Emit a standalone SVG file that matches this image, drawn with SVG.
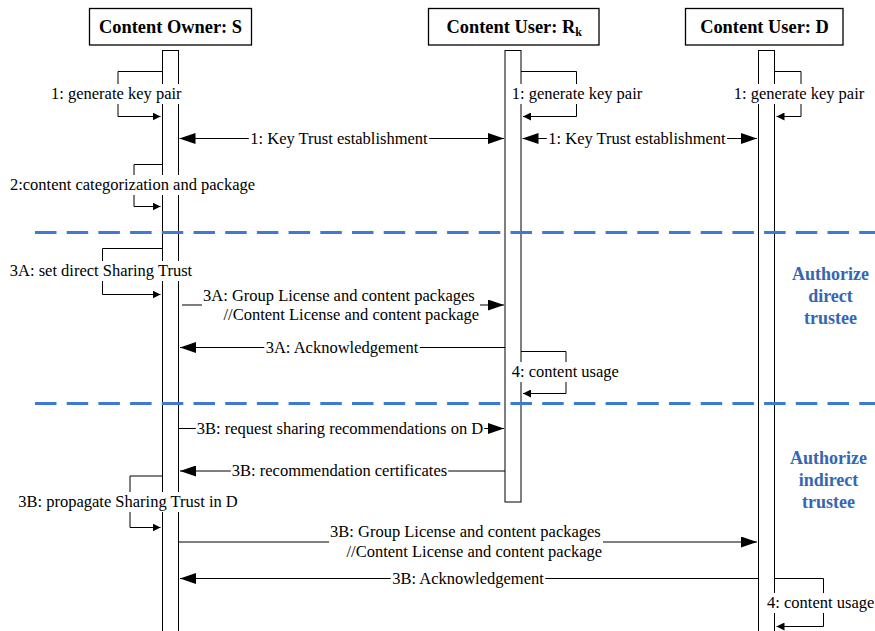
<svg xmlns="http://www.w3.org/2000/svg" width="875" height="631" viewBox="0 0 875 631">
<style>
.box{fill:#fff;stroke:#000;stroke-width:1.3}
.bar{fill:#fff;stroke:#000;stroke-width:1}
.msg{fill:none;stroke:#000;stroke-width:1.2}
.loop{fill:none;stroke:#000;stroke-width:1}
.t{font-family:"Liberation Serif","Times New Roman",serif;font-size:16.5px;fill:#000}
.c{text-anchor:middle}
.h{font-family:"Liberation Serif","Times New Roman",serif;font-size:18.4px;font-weight:bold;fill:#000}
.bg{fill:#fff}
.sep{fill:none;stroke:#3d7ad5;stroke-width:3;stroke-dasharray:21.5 10.2}
.phase{font-family:"Liberation Serif","Times New Roman",serif;font-size:18px;font-weight:bold;fill:#3566b3;text-anchor:middle}
</style>
<defs>
<marker id="ah" markerUnits="userSpaceOnUse" viewBox="0 0 16 11" refX="16" refY="5.5" markerWidth="16" markerHeight="11" orient="auto-start-reverse">
<path d="M0,0 L16,5.5 L0,11 z" fill="#000"/>
</marker>
<marker id="sh" markerUnits="userSpaceOnUse" viewBox="0 0 8 8" refX="8" refY="4" markerWidth="8" markerHeight="8" orient="auto">
<path d="M0,0 L8,4 L0,8 z" fill="#000"/>
</marker>
</defs>
<rect width="875" height="631" fill="#fff"/>

<g id="node-S">
<rect class="box" x="89.5" y="8.5" width="162" height="36.5"/>
<text class="h" x="170.5" y="33" text-anchor="middle">Content Owner: S</text>
<rect class="bar" x="162.5" y="50.5" width="16" height="600"/>
</g>
<g id="node-Rk">
<rect class="box" x="428.5" y="8.5" width="170.5" height="36.5"/>
<text class="h" x="446.5" y="33">Content User: R<tspan font-size="12px" dy="2.5">k</tspan></text>
<rect class="bar" x="505" y="50.5" width="16" height="451.5"/>
</g>
<g id="node-D">
<rect class="box" x="685.5" y="8.5" width="157.5" height="36.5"/>
<text class="h" x="764.5" y="33" text-anchor="middle">Content User: D</text>
<rect class="bar" x="758.5" y="50.5" width="16" height="600"/>
</g>

<g id="phases">
<line class="sep" x1="35" y1="232.5" x2="875" y2="232.5"/>
<line class="sep" x1="35" y1="403.5" x2="875" y2="403.5"/>
<text class="phase" x="830.5" y="280">Authorize</text>
<text class="phase" x="830.5" y="302">direct</text>
<text class="phase" x="830.5" y="324">trustee</text>
<text class="phase" x="828.5" y="464">Authorize</text>
<text class="phase" x="828.5" y="486">indirect</text>
<text class="phase" x="828.5" y="508">trustee</text>
</g>

<g id="connectors">
<!-- self loops -->
<path class="loop" d="M162.5,71.5 H118 V116.5 H160.5" marker-end="url(#sh)"/>
<path class="loop" d="M521,71.5 H576.5 V116.5 H523" marker-end="url(#sh)"/>
<path class="loop" d="M774.5,71.5 H801 V116.5 H776.5" marker-end="url(#sh)"/>
<path class="loop" d="M162.5,164.5 H134 V206.5 H160.5" marker-end="url(#sh)"/>
<path class="loop" d="M162.5,248.5 H102.5 V294.5 H160.5" marker-end="url(#sh)"/>
<path class="loop" d="M521,351.5 H566 V393.5 H523" marker-end="url(#sh)"/>
<path class="loop" d="M162.5,476 H130 V527.5 H160.5" marker-end="url(#sh)"/>
<path class="loop" d="M774.5,578.5 H823.5 V626.5 H776.5" marker-end="url(#sh)"/>
<!-- messages -->
<line class="msg" x1="179.5" y1="138.5" x2="504" y2="138.5" marker-start="url(#ah)" marker-end="url(#ah)"/>
<line class="msg" x1="522.5" y1="138.5" x2="757" y2="138.5" marker-start="url(#ah)" marker-end="url(#ah)"/>
<line class="msg" x1="182" y1="305" x2="504" y2="305" marker-end="url(#ah)"/>
<line class="msg" x1="505" y1="347.5" x2="180" y2="347.5" marker-end="url(#ah)"/>
<line class="msg" x1="178.5" y1="428.5" x2="504" y2="428.5" marker-end="url(#ah)"/>
<line class="msg" x1="505" y1="471" x2="180" y2="471" marker-end="url(#ah)"/>
<line class="msg" x1="178.5" y1="542" x2="757" y2="542" marker-end="url(#ah)"/>
<line class="msg" x1="758.5" y1="578.5" x2="180" y2="578.5" marker-end="url(#ah)"/>

<!-- labels -->
<g id="lbl-S-gen"><rect class="bg" x="50" y="84" width="132.6" height="20"/><text class="t c" x="116.3" y="99">1: generate key pair</text></g>
<g id="lbl-Rk-gen"><rect class="bg" x="510.7" y="84" width="132.6" height="20"/><text class="t c" x="577" y="99">1: generate key pair</text></g>
<g id="lbl-D-gen"><rect class="bg" x="732.7" y="84" width="132.6" height="20"/><text class="t c" x="799" y="99">1: generate key pair</text></g>
<g id="lbl-kt1"><rect class="bg" x="248.8" y="128.5" width="180.3" height="20"/><text class="t c" x="339" y="143.5">1: Key Trust establishment</text></g>
<g id="lbl-kt2"><rect class="bg" x="546.8" y="128.5" width="180.3" height="20"/><text class="t c" x="637" y="143.5">1: Key Trust establishment</text></g>
<g id="lbl-pkg"><rect class="bg" x="9" y="175" width="247.1" height="20"/><text class="t c" x="132.5" y="190">2:content categorization and package</text></g>
<g id="lbl-3A-set"><rect class="bg" x="8.4" y="261" width="185.3" height="20"/><text class="t c" x="101" y="276">3A: set direct Sharing Trust</text></g>
<g id="lbl-3A-grp"><rect class="bg" x="202" y="285.5" width="278" height="39.5"/><text class="t" x="203" y="300.5">3A: Group License and content packages</text><text class="t" x="223.5" y="320">//Content License and content package</text></g>
<g id="lbl-3A-ack"><rect class="bg" x="264.3" y="337.5" width="155.5" height="20"/><text class="t c" x="342" y="352.5">3A: Acknowledgement</text></g>
<g id="lbl-Rk-use"><rect class="bg" x="510.7" y="362" width="109.2" height="20"/><text class="t c" x="565.3" y="377">4: content usage</text></g>
<g id="lbl-3B-req"><rect class="bg" x="195.8" y="418.5" width="288.4" height="20"/><text class="t c" x="340" y="433.5">3B: request sharing recommendations on D</text></g>
<g id="lbl-3B-rec"><rect class="bg" x="230.8" y="461" width="217.4" height="20"/><text class="t c" x="339.5" y="476">3B: recommendation certificates</text></g>
<g id="lbl-3B-prop"><rect class="bg" x="16.8" y="492" width="222.4" height="20"/><text class="t c" x="128" y="507">3B: propagate Sharing Trust in D</text></g>
<g id="lbl-3B-grp"><rect class="bg" x="329" y="522" width="274" height="40"/><text class="t" x="330" y="537">3B: Group License and content packages</text><text class="t" x="346.5" y="557">//Content License and content package</text></g>
<g id="lbl-3B-ack"><rect class="bg" x="390.7" y="568.5" width="154.6" height="20"/><text class="t c" x="468" y="583.5">3B: Acknowledgement</text></g>
<g id="lbl-D-use"><rect class="bg" x="766.1" y="593" width="109.2" height="20"/><text class="t c" x="820.7" y="608">4: content usage</text></g>
</g>
</svg>
